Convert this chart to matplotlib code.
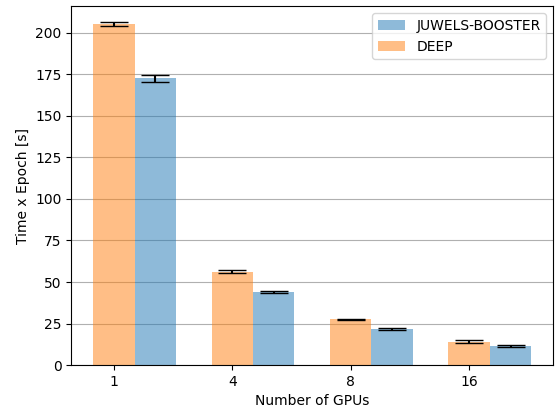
import matplotlib.pyplot as plt
import numpy as np

# Number of GPUs and measured times per epoch
gpus = ["1", "4", "8", "16"]
juwels = [172.5, 44.0, 21.8, 11.6]
juwels_err = [2.0, 0.7, 0.7, 0.6]
deep = [205.2, 56.2, 27.5, 14.0]
deep_err = [1.0, 1.0, 0.4, 0.9]

x = np.arange(len(gpus))
width = 0.35

fig, ax = plt.subplots(figsize=(5.56, 4.08), dpi=100)
ax.bar(x + width, juwels, width, yerr=juwels_err, capsize=10,
       color="tab:blue", alpha=0.5, label="JUWELS-BOOSTER")
ax.bar(x, deep, width, yerr=deep_err, capsize=10,
       color="tab:orange", alpha=0.5, label="DEEP")
ax.set_xticks(x)
ax.set_xticklabels(gpus)
ax.set_ylim(0, 216)
ax.set_xlabel("Number of GPUs")
ax.set_ylabel("Time x Epoch [s]")
ax.yaxis.grid(True)
ax.set_axisbelow(True)
ax.legend()
fig.subplots_adjust(left=0.128, right=0.995, top=0.985, bottom=0.105)
fig.savefig("out.png")
